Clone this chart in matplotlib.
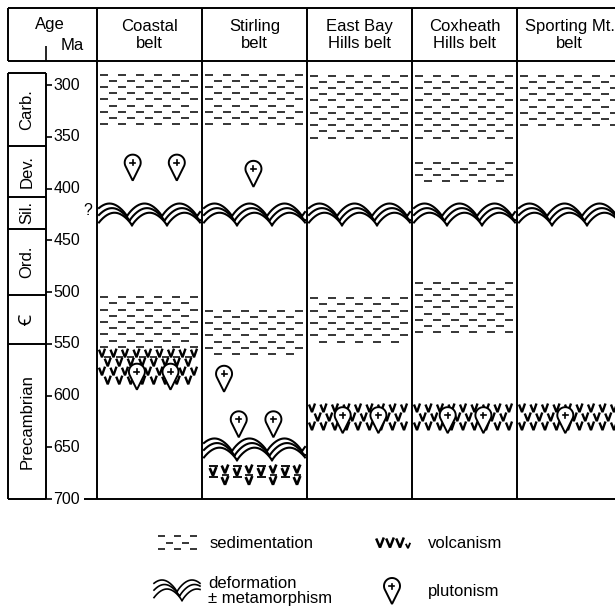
import numpy as np
import matplotlib
matplotlib.use("Agg")
import matplotlib.pyplot as plt
from matplotlib.patches import Polygon
from matplotlib.collections import LineCollection

plt.rcParams['font.family'] = ['Liberation Sans', 'DejaVu Sans']

# ---------------- data ----------------
belts = ["Coastal\nbelt", "Stirling\nbelt", "East Bay\nHills belt",
         "Coxheath\nHills belt", "Sporting Mt.\nbelt"]
age_ticks = [300, 350, 400, 450, 500, 550, 600, 650, 700]
period_names = ["Carb.", "Dev.", "Sil.", "Ord.", "\uA792", "Precambrian"]
period_bounds = [288, 359, 408, 439, 503, 550, 700]

sed_belt = [0, 0, 1, 1, 2, 2, 3, 3, 3, 4]
sed_top = [290, 505, 290, 518, 291, 506, 291, 375, 491, 291]
sed_base = [338, 553, 338, 560, 356, 553, 356, 394, 539, 339]

deform_belt = [0, 1, 2, 3, 4, 1]
deform_top = [414, 414, 414, 414, 414, 641]
deform_base = [435, 435, 435, 435, 435, 662]

volc_belt = [0, 1, 2, 3, 4]
volc_top = [556, 667, 609, 609, 609]
volc_base = [592, 688, 635, 635, 635]
volc_mixed = [1, 2, 0, 0, 0]   # 1: top row interbedded, 2: whole band interbedded

pluton_belt = [0, 0, 1, 0, 0, 1, 1, 1, 2, 2, 3, 3, 4]
pluton_pos = [0.34, 0.76, 0.49, 0.38, 0.70, 0.21, 0.35, 0.68, 0.34, 0.68, 0.34, 0.68, 0.46]
pluton_age = [375, 375, 381, 577, 577, 579, 623, 623, 619, 619, 619, 619, 619]

legend_labels = ["sedimentation", "volcanism", "deformation\n\u00b1 metamorphism", "plutonism"]

# ---------------- layout ----------------
COL0, COLW = 97.0, 105.0
Y300, PPM = 85.0, 1.035
PX = 1.0 / COLW
PY = 1.0 / PPM


def xp(px):
    return (px - COL0) / COLW


def yp(py):
    return 300 + (py - Y300) / PPM


fig = plt.figure(figsize=(6.15, 6.07), dpi=100)
ax = fig.add_axes([0, 0, 1, 1])
ax.set_xlim(xp(0), xp(615))
ax.set_ylim(yp(607), yp(0))
ax.axis('off')

LW = 1.4
K = 'black'


def hline(y, x0, x1, lw=LW, z=2):
    ax.plot([x0, x1], [y, y], color=K, lw=lw, solid_capstyle='butt', zorder=z)


def vline(x, y0, y1, lw=LW):
    ax.plot([x, x], [y0, y1], color=K, lw=lw, solid_capstyle='butt')


# frame
top_y, head_y, bot_y = yp(8), yp(61), age_ticks[-1]
hline(top_y, xp(8), xp(615))
hline(head_y, xp(8), xp(615))
vline(xp(8), top_y, head_y)
for i in range(len(belts)):
    vline(i, top_y, bot_y)
hline(bot_y, xp(84), xp(615))

# headers
ax.text(xp(50), yp(25), "Age", ha='center', va='center', fontsize=12)
ax.text(xp(72), yp(46), "Ma", ha='center', va='center', fontsize=12)
vline(xp(45.5), yp(46), head_y, lw=1.2)
for i, b in enumerate(belts):
    ax.text(i + 0.5, yp(35), b, ha='center', va='center', fontsize=12, linespacing=1.15)

# period column
pl, pr = xp(8), xp(45.5)
vline(pl, period_bounds[0], period_bounds[-1])
vline(pr, period_bounds[0], period_bounds[-1])
for b in period_bounds:
    hline(b, pl, pr)
for name, a, b in zip(period_names, period_bounds[:-1], period_bounds[1:]):
    fam = ['Noto Sans', 'DejaVu Sans'] if name == "\uA792" else None
    ax.text((pl + pr) / 2, (a + b) / 2, name, rotation=90, ha='center', va='center',
            fontsize=13 if fam else 12, family=fam, fontweight='bold' if fam else 'normal')

# age ticks
for t in age_ticks:
    hline(t, pr, pr + 6 * PX, lw=1.2)
    ax.text(pr + 8 * PX, t, str(t), ha='left', va='center', fontsize=11.5)
ax.text(xp(88), 421, "?", ha='center', va='center', fontsize=11.5)


# ---------------- pattern helpers ----------------
def sed_pattern(x0, x1, top, base, dash=8, period=18, row=6.2, lw=1.1):
    segs = []
    w = (x1 - x0) / PX
    y, i = top, 0
    while y <= base + 0.01:
        xs = 3 + (i % 2) * period / 2
        while xs + dash <= w - 2:
            segs.append([(x0 + xs * PX, y), (x0 + (xs + dash) * PX, y)])
            xs += period
        y += row * PY
        i += 1
    ax.add_collection(LineCollection(segs, colors=K, linewidths=lw))


def fold_pattern(x0, x1, top, base, lam=35.0, amp=13.0, gap=4.6, n=3, lw=1.5, phase=0.0):
    w = (x1 - x0) / PX
    xs = np.linspace(2, w - 2, 500)
    h = (base - top) / PY
    for k in range(n):
        yup = amp * np.abs(np.sin(np.pi * (xs + phase + k * 2.5) / lam)) ** 0.8
        ypx = (h + 1) - k * gap - yup   # px below top
        ax.plot(x0 + xs * PX, top + ypx * PY, color=K, lw=lw)


def vee(cx, cy, sx=3.0, sy=3.8, lw=1.7):
    ax.plot([cx - sx * PX, cx, cx + sx * PX],
            [cy - sy * PY, cy + sy * PY, cy - (sy + 1.0) * PY],
            color=K, lw=lw, solid_joinstyle='miter', solid_capstyle='butt')


def volc_pattern(x0, x1, top, base, mixed=0, dx=11.5, dy=9.0):
    w = (x1 - x0) / PX
    if mixed == 2:
        xs, k = 11.0, 0
        while xs <= w - 5:
            cx = x0 + xs * PX
            if k % 2 == 0:
                hline(top + 1.5 * PY, cx - 4.5 * PX, cx + 4.5 * PX, lw=1.3)
                vee(cx, top + 7 * PY, sx=3.3, sy=3.8, lw=1.9)
                hline(top + 12.5 * PY, cx - 4.5 * PX, cx + 4.5 * PX, lw=1.3)
            else:
                vee(cx, top + 4.5 * PY, sx=3.3, sy=3.8, lw=1.9)
                hline(top + 10 * PY, cx - 3.5 * PX, cx + 3.5 * PX, lw=1.2)
                vee(cx, top + 16 * PY, sx=3.3, sy=3.8, lw=1.9)
            xs += 12.0
            k += 1
        return
    y, i = top + 3.5 * PY, 0
    while y <= base - 2.5 * PY + 0.01:
        xs = 5 + (i % 2) * dx / 2
        while xs <= w - 4:
            vee(x0 + xs * PX, y)
            if i == 0 and mixed == 1 and xs + dx / 2 <= w - 3:
                hline(y + 3.5 * PY, x0 + (xs + dx / 2 - 3.5) * PX, x0 + (xs + dx / 2 + 3.5) * PX, lw=1.1)
            xs += dx
        y += dy * PY
        i += 1


def pluton(cx, cy, r=8.0, d=18.0, lw=1.4):
    a = np.degrees(np.arccos(r / d))
    th = np.radians(np.linspace(-90 + a, 270 - a, 80))
    xs = np.append(r * np.cos(th), 0)
    ys = np.append(r * np.sin(th), -d)
    verts = np.column_stack([cx + xs * PX, cy - ys * PY])
    ax.add_patch(Polygon(verts, closed=True, fc='white', ec=K, lw=lw, zorder=5))
    ax.plot([cx - 2.5 * PX, cx + 2.5 * PX], [cy, cy], color=K, lw=1.2, zorder=6)
    ax.plot([cx, cx], [cy - 2.5 * PY, cy + 2.5 * PY], color=K, lw=1.2, zorder=6)


# ---------------- draw data ----------------
for b, t, s in zip(sed_belt, sed_top, sed_base):
    sed_pattern(b, b + 1, t, s)
for b, t, s in zip(deform_belt, deform_top, deform_base):
    fold_pattern(b, b + 1, t, s)
for b, t, s, m in zip(volc_belt, volc_top, volc_base, volc_mixed):
    volc_pattern(b, b + 1, t, s, mixed=m)
for b, p, a in zip(pluton_belt, pluton_pos, pluton_age):
    pluton(b + p, a)

# ---------------- legend ----------------
ly1, ly2 = yp(543), yp(591)
sed_pattern(xp(155), xp(200), yp(536), yp(550), dash=7, period=16, row=6.5)
ax.text(xp(210), ly1, legend_labels[0], ha='left', va='center', fontsize=12)
for vx in [380, 390, 400]:
    vee(xp(vx), ly1, sx=3.8, sy=4.5, lw=1.8)
vee(xp(408), ly1 + 3 * PY, sx=2.2, sy=2.2, lw=1.3)
ax.text(xp(428), ly1, legend_labels[1], ha='left', va='center', fontsize=12)
fold_pattern(xp(152), xp(202), yp(577), yp(600), lam=30, amp=12, gap=4.5, lw=1.2)
ax.text(xp(208), ly2, legend_labels[2], ha='left', va='center', fontsize=12, linespacing=0.95)
pluton(xp(392), yp(586))
ax.text(xp(428), ly2, legend_labels[3], ha='left', va='center', fontsize=12)

fig.savefig("out.png", dpi=100)
